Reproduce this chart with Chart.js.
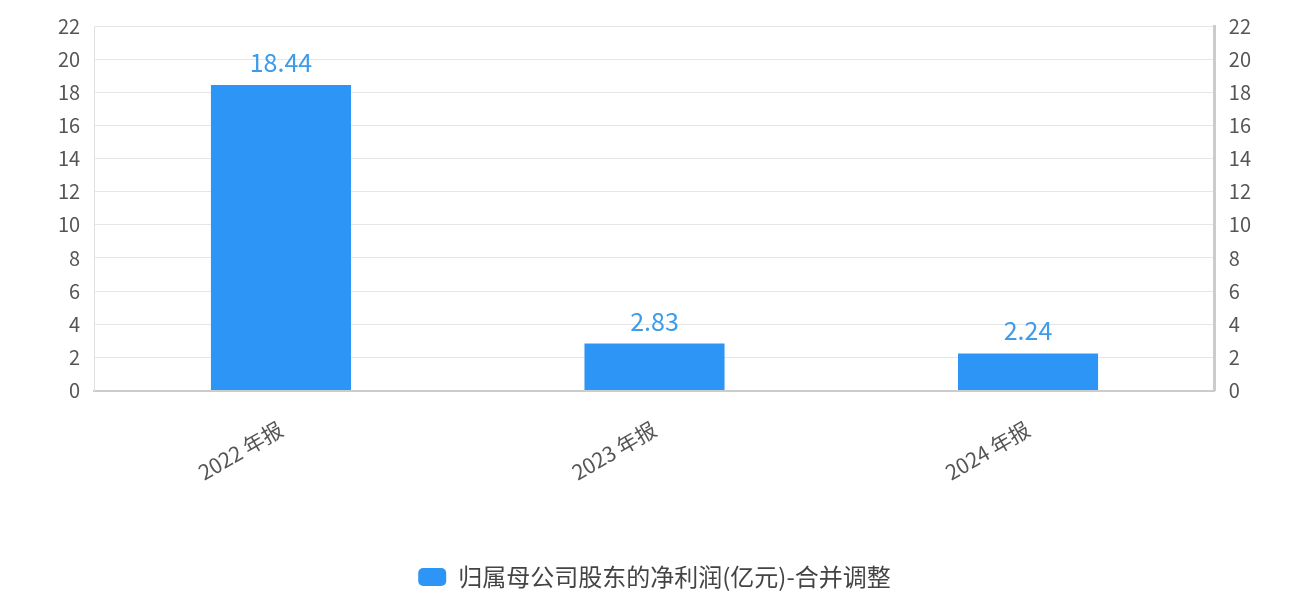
<!DOCTYPE html>
<html><head><meta charset="utf-8">
<script src="https://cdn.jsdelivr.net/npm/chart.js@4"></script>
<style>html,body{margin:0;background:#fff}#w{width:1301px;height:599px}</style>
</head><body><div id="w"><canvas id="c"></canvas></div>
<script>
const categories = ["2022 年报", "2023 年报", "2024 年报"];
const values = [18.44, 2.83, 2.24];
const seriesName = "归属母公司股东的净利润(亿元)-合并调整";
const tickFont = {family: "'Noto Sans CJK SC', 'Noto Sans'", size: 20};
const labelPlugin = {
  id: 'vals',
  afterDatasetsDraw(chart) {
    const ctx = chart.ctx;
    const meta = chart.getDatasetMeta(0);
    ctx.save();
    ctx.fillStyle = '#3d9be9';
    ctx.font = "25px 'Noto Sans CJK SC', 'Noto Sans'";
    ctx.textAlign = 'center';
    ctx.textBaseline = 'bottom';
    meta.data.forEach((b, i) => ctx.fillText(values[i].toFixed(2), b.x, b.y - 10));
    ctx.restore();
  }
};
new Chart(document.getElementById('c'), {
  type: 'bar',
  data: {labels: categories, datasets: [{label: seriesName, data: values, backgroundColor: '#2d95f5', yAxisID: 'y', barPercentage: 0.375, categoryPercentage: 1}]},
  options: {
    responsive: true, maintainAspectRatio: false, animation: false,
    layout: {padding: {top: 22, left: 44, right: 36, bottom: 0}},
    scales: {
      x: {grid: {display: false}, border: {color: '#ccc', width: 2}, ticks: {color: '#555', font: {family: tickFont.family, size: 21}, maxRotation: 30, minRotation: 30, padding: 18}},
      y: {min: 0, max: 22, ticks: {stepSize: 2, color: '#555', font: tickFont, padding: 14}, grid: {color: '#e6e6e6', drawTicks: false}, border: {color: '#e0e0e0'}},
      y2: {position: 'right', min: 0, max: 22, ticks: {stepSize: 2, color: '#555', font: tickFont, padding: 14}, grid: {display: false, drawTicks: false}, border: {color: '#ccc', width: 3}}
    },
    plugins: {
      legend: {position: 'bottom', labels: {color: '#444', font: {family: "'Noto Sans CJK SC'", size: 24}, boxWidth: 28, boxHeight: 18, useBorderRadius: true, borderRadius: 5, padding: 62}},
      tooltip: {enabled: false}
    }
  },
  plugins: [labelPlugin]
});
</script></body></html>
